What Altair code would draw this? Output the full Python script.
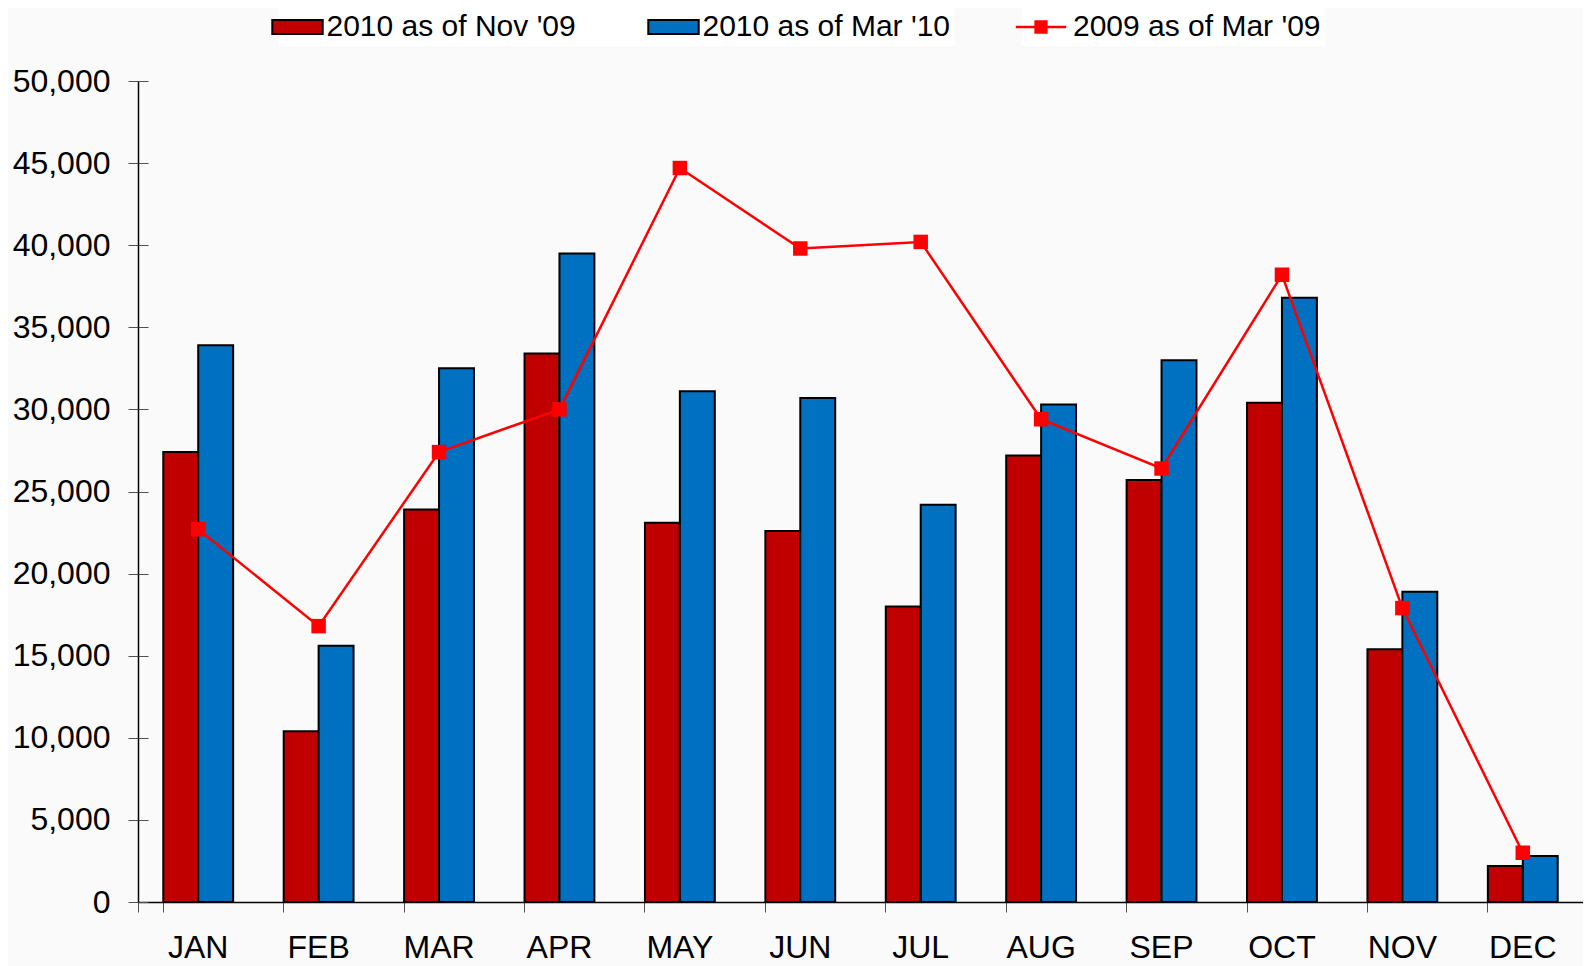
import altair as alt
import pandas as pd

months = ["JAN", "FEB", "MAR", "APR", "MAY", "JUN", "JUL", "AUG", "SEP", "OCT", "NOV", "DEC"]
nov09 = [27400, 10400, 23900, 33400, 23100, 22600, 18000, 27200, 25700, 30400, 15400, 2200]
mar10 = [33900, 15600, 32500, 39500, 31100, 30700, 24200, 30300, 33000, 36800, 18900, 2800]
mar09 = [22700, 16800, 27400, 30000, 44700, 39800, 40200, 29400, 26400, 38200, 17900, 3000]
bar_series = ["2010 as of Nov '09", "2010 as of Mar '10"]
line_series = ["2009 as of Mar '09"]
bar_colors = ["#C00000", "#0070C0"]
line_color = "#FF0000"
y_ticks = [0, 5000, 10000, 15000, 20000, 25000, 30000, 35000, 40000, 45000, 50000]

bars_df = pd.DataFrame({
    "month": months * 2,
    "series": [bar_series[0]] * 12 + [bar_series[1]] * 12,
    "value": nov09 + mar10,
})
line_df = pd.DataFrame({"month": months, "series": line_series * 12, "value": mar09})

FONT = "Liberation Sans, Arial, sans-serif"
TICK = "#505050"

xscale = alt.Scale(domain=months, paddingInner=0.42, paddingOuter=0.21)
yscale = alt.Scale(domain=[0, 50000], nice=False)

bar_rect = "M-3.6,-1H3.6V1H-3.6Z"
line_sym = ("M-3.6,0H3.6"
            "M-0.95,-0.8H0.95M-0.95,-0.53H0.95M-0.95,-0.27H0.95M-0.95,0H0.95"
            "M-0.95,0.27H0.95M-0.95,0.53H0.95M-0.95,0.8H0.95")

bars = alt.Chart(bars_df).mark_bar(stroke="black", strokeWidth=2).encode(
    x=alt.X("month:N", sort=months, scale=xscale, title=None,
            axis=alt.Axis(orient="bottom", bandPosition=0, tickExtra=True, tickSize=10,
                          tickColor=TICK, labelAngle=0, labelFontSize=32, labelFont=FONT,
                          labelColor="black", labelPadding=20, domainColor="black",
                          domainWidth=1.5, grid=False)),
    xOffset=alt.XOffset("series:N", sort=bar_series,
                        scale=alt.Scale(domain=bar_series, paddingInner=0, paddingOuter=0)),
    y=alt.Y("value:Q", scale=yscale, title=None,
            axis=alt.Axis(orient="left", values=y_ticks, labelExpr="format(datum.value, ',')",
                          tickSize=10, tickColor=TICK, labelFontSize=32, labelFont=FONT,
                          labelColor="black", labelPadding=18, domainColor="black",
                          domainWidth=1.5, grid=False)),
    fill=alt.Fill("series:N", sort=bar_series,
                  scale=alt.Scale(domain=bar_series, range=bar_colors),
                  legend=alt.Legend(title=None, orient="none", legendX=140.5, legendY=-73,
                                    direction="horizontal", symbolType=bar_rect, symbolSize=196,
                                    symbolStrokeColor="black", symbolStrokeWidth=2,
                                    labelFontSize=30, labelFont=FONT, labelColor="black",
                                    labelOffset=14, columnPadding=67, labelLimit=1000,
                                    fillColor="white", padding=4)),
)

line = alt.Chart(line_df).mark_line(strokeWidth=2.5).encode(
    x=alt.X("month:N", sort=months, scale=xscale, title=None,
            axis=alt.Axis(orient="bottom", offset=-10, bandPosition=0, tickExtra=True,
                          tickSize=10, tickColor=TICK, labels=False, domain=False, grid=False)),
    y=alt.Y("value:Q", scale=yscale, title=None,
            axis=alt.Axis(orient="left", offset=-10, values=y_ticks, tickSize=10,
                          tickColor=TICK, labels=False, domain=False, grid=False)),
    stroke=alt.Stroke("series:N", scale=alt.Scale(domain=line_series, range=[line_color]),
                      legend=alt.Legend(title=None, orient="none", legendX=884, legendY=-73,
                                        direction="horizontal", symbolType=line_sym,
                                        symbolSize=196, symbolStrokeWidth=2.5,
                                        labelFontSize=30, labelFont=FONT, labelColor="black",
                                        labelOffset=17, labelLimit=1000,
                                        fillColor="white", padding=4)),
)

points = alt.Chart(line_df).mark_square(size=210, color=line_color, opacity=1).encode(
    x=alt.X("month:N", sort=months, scale=xscale, axis=None),
    y=alt.Y("value:Q", scale=yscale, axis=None),
)

chart = alt.layer(bars, line, points).resolve_scale(
    x="shared", y="shared"
).resolve_axis(
    x="independent", y="independent"
).properties(
    width=1445, height=821,
    padding={"left": 130, "top": 73, "right": 0, "bottom": 64},
    autosize=alt.AutoSizeParams(type="none"),
    background="#fafafa",
).configure_view(stroke=None)

chart.save("out.html", embed_options={"renderer": "svg", "actions": False})
